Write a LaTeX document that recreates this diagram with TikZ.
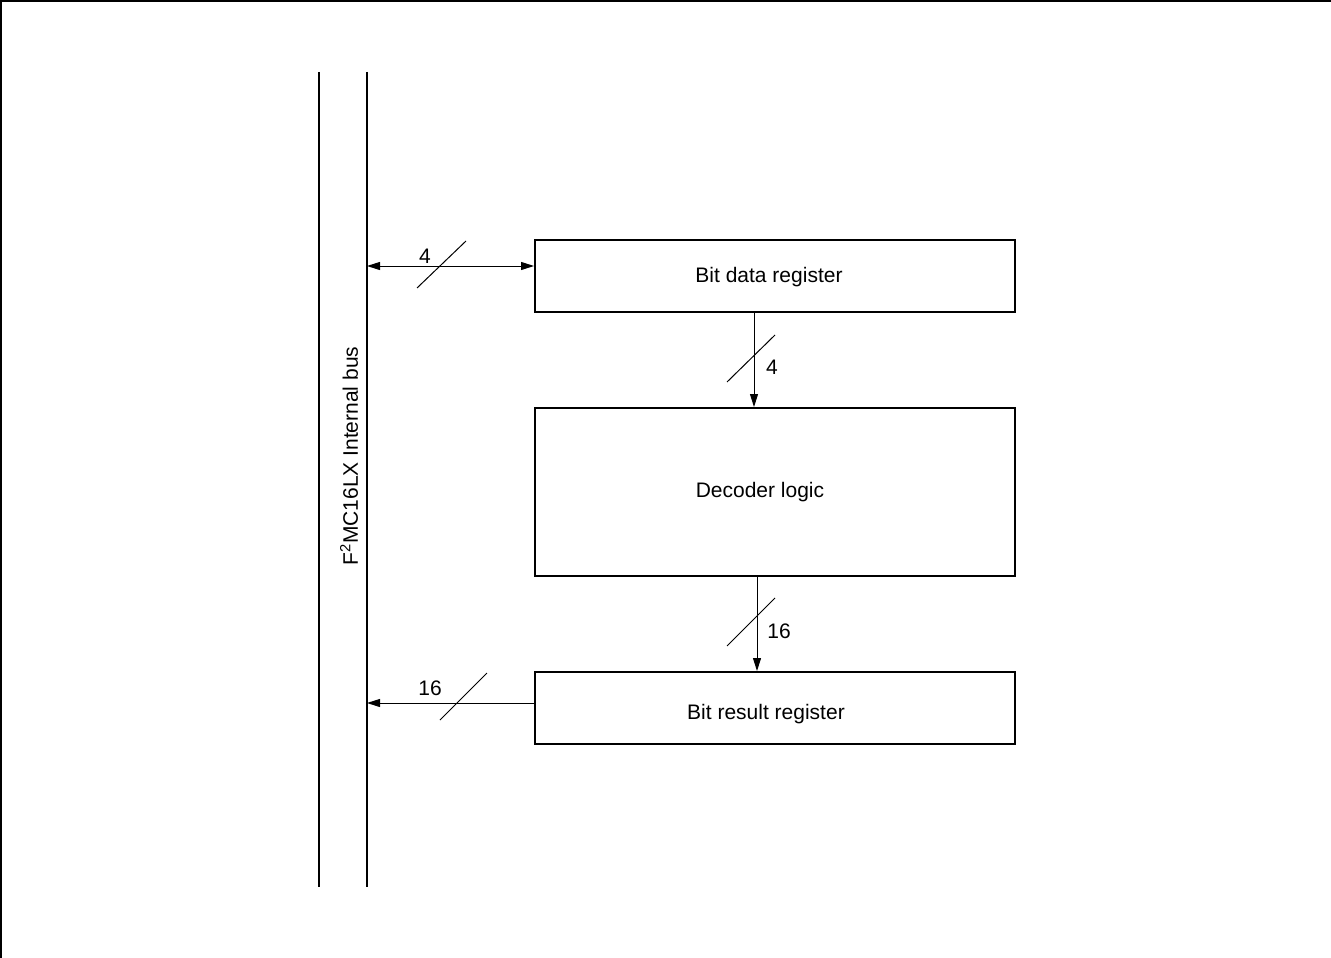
\documentclass[tikz,border=0pt]{standalone}
\usepackage{fontspec}
\setmainfont{Liberation Sans}
\usetikzlibrary{arrows.meta}
\begin{document}
\begin{tikzpicture}[x=1pt,y=-1pt,
  txt/.style={font=\fontsize{21}{25}\selectfont},
  blk/.style={draw,line width=2pt,minimum width=480pt,inner sep=0pt,txt},
  busline/.style={line width=2.2pt},
  conn/.style={line width=1pt,-{Triangle[length=13pt,width=8pt]}},
  bconn/.style={line width=1pt,{Triangle[length=13pt,width=8pt]}-{Triangle[length=13pt,width=8pt]}},
  slash/.style={line width=1pt},
  lbl/.style={txt,inner sep=0pt}]
\useasboundingbox (0,0) rectangle (1331,958);
% frame
\draw[line width=2.5pt] (1,958) -- (1,1) -- (1331,1);
% bus
\coordinate (bl1) at (319,72);
\coordinate (bl2) at (319,887);
\coordinate (br1) at (367,72);
\coordinate (br2) at (367,887);
\draw[busline] (bl1) -- (bl2);
\draw[busline] (br1) -- (br2);
\node[lbl,rotate=90] (buslbl) at (349,456) {F\textsuperscript{2}MC16LX Internal bus};
% blocks
\node[blk,minimum height=72pt] (bdr) at (775,276) {};
\node[txt] (bdrt) at (769,277) {Bit data register};
\node[blk,minimum height=168pt] (dec) at (775,492) {};
\node[txt] (dect) at (760,492) {Decoder logic};
\node[blk,minimum height=72pt] (brr) at (775,708) {};
\node[txt] (brrt) at (766,714) {Bit result register};
% connector 1 (bus <-> bit data register)
\coordinate (c1a) at ([yshift=10pt]bdr.west);
\coordinate (c1b) at (br1 |- c1a);
\draw[bconn] (c1b) -- (c1a);
\draw[slash] (417,288) -- (466,241);
\node[lbl] (l1) at (425,256) {4};
% connector 2
\coordinate (c2a) at ([xshift=-21pt]bdr.south);
\coordinate (c2b) at ([xshift=-21pt]dec.north);
\draw[conn] (c2a) -- (c2b);
\draw[slash] (727,382) -- (775,335);
\node[lbl] (l2) at (772,367) {4};
% connector 3
\coordinate (c3a) at ([xshift=-18pt]dec.south);
\coordinate (c3b) at ([xshift=-18pt]brr.north);
\draw[conn] (c3a) -- (c3b);
\draw[slash] (727,646) -- (775,598);
\node[lbl] (l3) at (779,631) {16};
% connector 4
\coordinate (c4a) at ([yshift=5pt]brr.west);
\coordinate (c4b) at (br1 |- c4a);
\draw[conn] (c4a) -- (c4b);
\draw[slash] (440,720) -- (487,673);
\node[lbl] (l4) at (430,688) {16};
\end{tikzpicture}
\end{document}
